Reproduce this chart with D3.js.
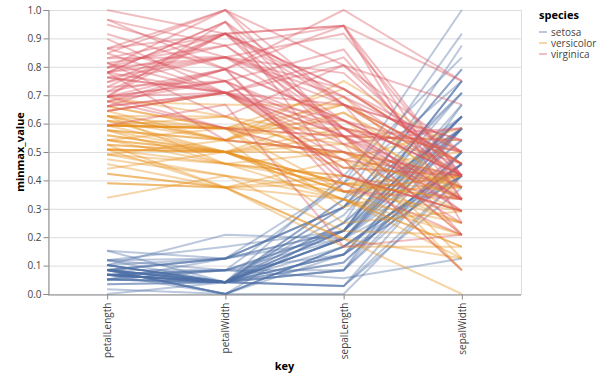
<!DOCTYPE html>
<html>
<head>
<meta charset="utf-8">
<script src="https://cdn.jsdelivr.net/npm/d3@7"></script>
<style>
  html, body { margin: 0; padding: 0; background: #fff; }
  svg { display: block; font-family: "Segoe UI", "Open Sans", sans-serif; }
</style>
</head>
<body>
<svg id="chart" width="600" height="380"></svg>
<script>
// Iris dataset (raw values), species per row
const sepalLength = [5.1,4.9,4.7,4.6,5.0,5.4,4.6,5.0,4.4,4.9,5.4,4.8,4.8,4.3,5.8,5.7,5.4,5.1,5.7,5.1,5.4,5.1,4.6,5.1,4.8,5.0,5.0,5.2,5.2,4.7,4.8,5.4,5.2,5.5,4.9,5.0,5.5,4.9,4.4,5.1,5.0,4.5,4.4,5.0,5.1,4.8,5.1,4.6,5.3,5.0,
  7.0,6.4,6.9,5.5,6.5,5.7,6.3,4.9,6.6,5.2,5.0,5.9,6.0,6.1,5.6,6.7,5.6,5.8,6.2,5.6,5.9,6.1,6.3,6.1,6.4,6.6,6.8,6.7,6.0,5.7,5.5,5.5,5.8,6.0,5.4,6.0,6.7,6.3,5.6,5.5,5.5,6.1,5.8,5.0,5.6,5.7,5.7,6.2,5.1,5.7,
  6.3,5.8,7.1,6.3,6.5,7.6,4.9,7.3,6.7,7.2,6.5,6.4,6.8,5.7,5.8,6.4,6.5,7.7,7.7,6.0,6.9,5.6,7.7,6.3,6.7,7.2,6.2,6.1,6.4,7.2,7.4,7.9,6.4,6.3,6.1,7.7,6.3,6.4,6.0,6.9,6.7,6.9,5.8,6.8,6.7,6.7,6.3,6.5,6.2,5.9];
const sepalWidth = [3.5,3.0,3.2,3.1,3.6,3.9,3.4,3.4,2.9,3.1,3.7,3.4,3.0,3.0,4.0,4.4,3.9,3.5,3.8,3.8,3.4,3.7,3.6,3.3,3.4,3.0,3.4,3.5,3.4,3.2,3.1,3.4,4.1,4.2,3.1,3.2,3.5,3.1,3.0,3.4,3.5,2.3,3.2,3.5,3.8,3.0,3.8,3.2,3.7,3.3,
  3.2,3.2,3.1,2.3,2.8,2.8,3.3,2.4,2.9,2.7,2.0,3.0,2.2,2.9,2.9,3.1,3.0,2.7,2.2,2.5,3.2,2.8,2.5,2.8,2.9,3.0,2.8,3.0,2.9,2.6,2.4,2.4,2.7,2.7,3.0,3.4,3.1,2.3,3.0,2.5,2.6,3.0,2.6,2.3,2.7,3.0,2.9,2.9,2.5,2.8,
  3.3,2.7,3.0,2.9,3.0,3.0,2.5,2.9,2.5,3.6,3.2,2.7,3.0,2.5,2.8,3.2,3.0,3.8,2.6,2.2,3.2,2.8,2.8,2.7,3.3,3.2,2.8,3.0,2.8,3.0,2.8,3.8,2.8,2.8,2.6,3.0,3.4,3.1,3.0,3.1,3.1,3.1,2.7,3.2,3.3,3.0,2.5,3.0,3.4,3.0];
const petalLength = [1.4,1.4,1.3,1.5,1.4,1.7,1.4,1.5,1.4,1.5,1.5,1.6,1.4,1.1,1.2,1.5,1.3,1.4,1.7,1.5,1.7,1.5,1.0,1.7,1.9,1.6,1.6,1.5,1.4,1.6,1.6,1.5,1.5,1.4,1.5,1.2,1.3,1.5,1.3,1.5,1.3,1.3,1.3,1.6,1.9,1.4,1.6,1.4,1.5,1.4,
  4.7,4.5,4.9,4.0,4.6,4.5,4.7,3.3,4.6,3.9,3.5,4.2,4.0,4.7,3.6,4.4,4.5,4.1,4.5,3.9,4.8,4.0,4.9,4.7,4.3,4.4,4.8,5.0,4.5,3.5,3.8,3.7,3.9,5.1,4.5,4.5,4.7,4.4,4.1,4.0,4.4,4.6,4.0,3.3,4.2,4.2,4.2,4.3,3.0,4.1,
  6.0,5.1,5.9,5.6,5.8,6.6,4.5,6.3,5.8,6.1,5.1,5.3,5.5,5.0,5.1,5.3,5.5,6.7,6.9,5.0,5.7,4.9,6.7,4.9,5.7,6.0,4.8,4.9,5.6,5.8,6.1,6.4,5.6,5.1,5.6,6.1,5.6,5.5,4.8,5.4,5.6,5.1,5.1,5.9,5.7,5.2,5.0,5.2,5.4,5.1];
const petalWidth = [0.2,0.2,0.2,0.2,0.2,0.4,0.3,0.2,0.2,0.1,0.2,0.2,0.1,0.1,0.2,0.4,0.4,0.3,0.3,0.3,0.2,0.4,0.2,0.5,0.2,0.2,0.4,0.2,0.2,0.2,0.2,0.4,0.1,0.2,0.1,0.2,0.2,0.1,0.2,0.2,0.3,0.3,0.2,0.6,0.4,0.3,0.2,0.2,0.2,0.2,
  1.4,1.5,1.5,1.3,1.5,1.3,1.6,1.0,1.3,1.4,1.0,1.5,1.0,1.4,1.3,1.4,1.5,1.0,1.5,1.1,1.8,1.3,1.5,1.2,1.3,1.4,1.4,1.7,1.5,1.0,1.1,1.0,1.2,1.6,1.5,1.6,1.5,1.3,1.3,1.3,1.2,1.4,1.2,1.0,1.3,1.2,1.3,1.3,1.1,1.3,
  2.5,1.9,2.1,1.8,2.2,2.1,1.7,1.8,1.8,2.5,2.0,1.9,2.1,2.0,2.4,2.3,1.8,2.2,2.3,1.5,2.3,2.0,2.0,1.8,2.1,1.8,1.8,1.8,2.1,1.6,1.9,2.0,2.2,1.5,1.4,2.3,2.4,1.8,1.8,2.1,2.4,2.3,1.9,2.3,2.5,2.3,1.9,2.0,2.3,1.8];
const speciesNames = ["setosa", "versicolor", "virginica"];
const speciesCounts = [50, 50, 50];
const keys = ["petalLength", "petalWidth", "sepalLength", "sepalWidth"];
const yTicks = [0, 0.1, 0.2, 0.3, 0.4, 0.5, 0.6, 0.7, 0.8, 0.9, 1.0];
const colors = ["#4c6fa5", "#e8901c", "#d9545e"];

(function () {
const raw = { petalLength, petalWidth, sepalLength, sepalWidth };
const species = [];
speciesNames.forEach((s, i) => { for (let k = 0; k < speciesCounts[i]; k++) species.push(s); });

// min-max normalisation per key (as in the fold/joinaggregate transform)
const ext = {};
keys.forEach(k => { ext[k] = d3.extent(raw[k]); });
const rows = species.map((s, i) => ({
  species: s,
  values: keys.map(k => ({ key: k, v: (raw[k][i] - ext[k][0]) / (ext[k][1] - ext[k][0]) }))
}));

const svg = d3.select("#chart");
const mLeft = 48, mRight = 521, mTop = 10, mBottom = 294;

const x = d3.scalePoint().domain(keys).range([mLeft, mRight]).padding(0.5);
const y = d3.scaleLinear().domain([0, 1]).range([mBottom, mTop]);
const color = d3.scaleOrdinal().domain(speciesNames).range(colors);

// grid
svg.append("g").selectAll("line").data(yTicks).join("line")
  .attr("x1", mLeft).attr("x2", mRight)
  .attr("y1", d => y(d) + 0.5).attr("y2", d => y(d) + 0.5)
  .attr("stroke", "#ddd").attr("stroke-width", 1);

// view frame
svg.append("rect").attr("x", mLeft + 0.5).attr("y", mTop + 0.5)
  .attr("width", mRight - mLeft).attr("height", mBottom - mTop)
  .attr("fill", "none").attr("stroke", "#ddd");

// lines
const line = d3.line().x(d => x(d.key)).y(d => y(d.v));
svg.append("g").selectAll("path").data(rows).join("path")
  .attr("d", d => line(d.values))
  .attr("fill", "none")
  .attr("stroke", d => color(d.species))
  .attr("stroke-width", 2)
  .attr("stroke-opacity", 0.38);

// y axis
const yAxis = svg.append("g").attr("transform", `translate(${mLeft + 0.5},0)`)
  .call(d3.axisLeft(y).tickValues(yTicks).tickFormat(d3.format(".1f")).tickSize(5).tickPadding(2));
yAxis.attr("font-family", null).attr("font-size", null);
yAxis.select(".domain").attr("stroke", "#888");
yAxis.selectAll(".tick line").attr("stroke", "#888");
yAxis.selectAll(".tick text").attr("fill", "#444").style("font-size", "10px");

// x axis
const xAxis = svg.append("g").attr("transform", `translate(0,${mBottom + 0.5})`)
  .call(d3.axisBottom(x).tickSize(5).tickSizeOuter(0));
xAxis.attr("font-family", null).attr("font-size", null);
xAxis.select(".domain").attr("stroke", "#888").attr("d", `M${mLeft},0.5H${mRight}`);
xAxis.selectAll(".tick line").attr("stroke", "#888");
xAxis.selectAll(".tick text")
  .attr("fill", "#444").style("font-size", "10px")
  .attr("text-anchor", "end")
  .attr("transform", "rotate(-90)")
  .attr("x", -8).attr("y", 0).attr("dy", "0.35em");

// axis titles
svg.append("text").attr("x", (mLeft + mRight) / 2).attr("y", 370)
  .attr("text-anchor", "middle").style("font-size", "11px").style("font-weight", "bold")
  .attr("fill", "#000").text("key");
svg.append("text").attr("transform", `translate(24,${(mTop + mBottom) / 2}) rotate(-90)`)
  .attr("text-anchor", "middle").style("font-size", "11px").style("font-weight", "bold")
  .attr("fill", "#000").text("minmax_value");

// legend
const lg = svg.append("g");
lg.append("text").attr("x", 539).attr("y", 19).style("font-size", "11px").style("font-weight", "bold")
  .attr("fill", "#000").text("species");
const items = lg.selectAll("g.item").data(speciesNames).join("g").attr("class", "item")
  .attr("transform", (d, i) => `translate(0,${32 + i * 11})`);
items.append("line").attr("x1", 539).attr("x2", 547).attr("y1", 0).attr("y2", 0)
  .attr("stroke", d => color(d)).attr("stroke-width", 2).attr("stroke-opacity", 0.38);
items.append("text").attr("x", 551).attr("y", 3.5).style("font-size", "10px")
  .attr("fill", "#444").text(d => d);
})();
</script>
</body>
</html>
